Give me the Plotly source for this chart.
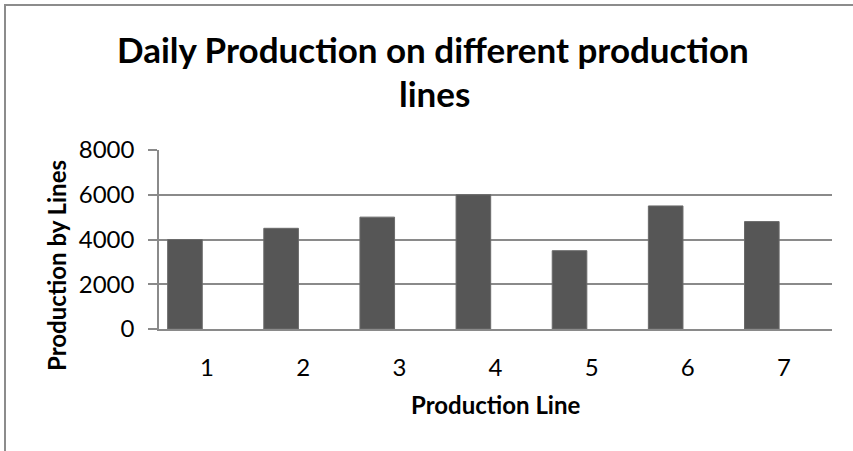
import plotly.graph_objects as go

# Daily output per production line
lines = ["1", "2", "3", "4", "5", "6", "7"]
production = [4000, 4500, 5000, 6000, 3500, 5500, 4800]
y_ticks = [0, 2000, 4000, 6000, 8000]

W, H = 853, 451
# plot-area box in pixels
PL, PR, PT, PB = 159, 832, 150, 329


def px_x(px):
    return (px - PL) / (PR - PL)


def px_y(py):
    return (PB - py) / (PB - PT)


FONT = "Lato"
GRID = "#8a8a8a"

fig = go.Figure()
fig.add_trace(go.Bar(
    x=lines,
    y=production,
    width=0.36,
    offset=-0.41,
    marker=dict(color="#565656", line=dict(color="#6a6a6a", width=1)),
    hoverinfo="x+y",
))

fig.update_layout(
    width=W,
    height=H,
    margin=dict(l=PL, r=W - PR, t=PT, b=H - PB),
    paper_bgcolor="white",
    plot_bgcolor="white",
    showlegend=False,
    font=dict(family=FONT, color="black"),
    xaxis=dict(
        type="category",
        range=[-0.5, 6.5],
        showgrid=False,
        showline=True,
        linecolor=GRID,
        linewidth=1.5,
        ticks="",
        tickfont=dict(size=24, family=FONT),
        ticklabelstandoff=16,
        zeroline=False,
        fixedrange=True,
    ),
    yaxis=dict(
        range=[0, 8000],
        tickvals=y_ticks,
        ticktext=[str(v) for v in y_ticks],
        showgrid=True,
        gridcolor=GRID,
        gridwidth=1.5,
        showline=True,
        linecolor=GRID,
        linewidth=1.5,
        ticks="outside",
        ticklen=9,
        tickcolor=GRID,
        tickwidth=1.5,
        tickfont=dict(size=24, family=FONT),
        ticklabelstandoff=9,
        zeroline=False,
        fixedrange=True,
    ),
)

# chart frame
fig.add_shape(
    type="rect", xref="paper", yref="paper",
    x0=px_x(5), x1=px_x(W + 20), y0=px_y(H + 20), y1=px_y(5),
    line=dict(color="#8c8c8c", width=2), fillcolor="rgba(0,0,0,0)", layer="below",
)

# chart title, two lines
fig.add_annotation(
    text="<b>Daily Production on different production</b>",
    xref="paper", yref="paper", x=px_x(433), y=px_y(49),
    xanchor="center", yanchor="middle", showarrow=False,
    font=dict(size=35, family=FONT, color="black"),
)
fig.add_annotation(
    text="<b>lines</b>",
    xref="paper", yref="paper", x=px_x(434), y=px_y(93),
    xanchor="center", yanchor="middle", showarrow=False,
    font=dict(size=35, family=FONT, color="black"),
)

# axis titles
fig.add_annotation(
    text="<b>Production by Lines</b>",
    xref="paper", yref="paper", x=px_x(56), y=px_y(265),
    xanchor="center", yanchor="middle", textangle=-90, showarrow=False,
    font=dict(size=24, family=FONT, color="black"),
)
fig.add_annotation(
    text="<b>Production Line</b>",
    xref="paper", yref="paper", x=px_x(495), y=px_y(404),
    xanchor="center", yanchor="middle", showarrow=False,
    font=dict(size=24, family=FONT, color="black"),
)

fig.write_html("out.html")
